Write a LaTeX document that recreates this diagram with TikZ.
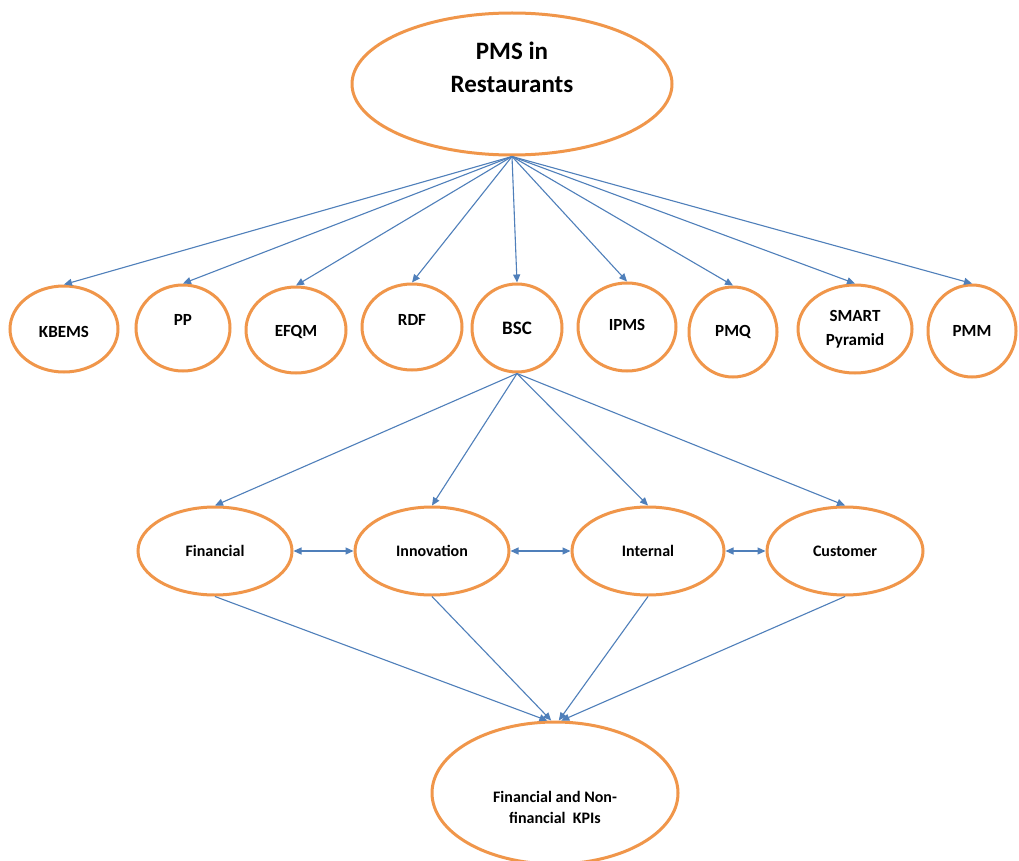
\documentclass[tikz,border=0pt]{standalone}
\usepackage{fontspec}
\setmainfont{Carlito}
\usetikzlibrary{shapes.geometric,arrows.meta}
\definecolor{ovalorange}{HTML}{F0964A}
\definecolor{linkblue}{HTML}{4F7FBA}
\begin{document}
\begin{tikzpicture}[x=1pt,y=-1pt,
  oval/.style={ellipse, draw=ovalorange, line width=3pt, fill=white, inner sep=0pt},
  lbl/.style={font=\fontsize{17}{24}\selectfont\bfseries, align=center, text=black},
  midlbl/.style={font=\fontsize{16}{21}\selectfont\bfseries, align=center, text=black},
  link/.style={draw=linkblue, line width=1.1pt, -{Triangle[length=8pt,width=7pt]}},
  blink/.style={draw=linkblue, line width=1.1pt, {Triangle[length=8pt,width=7pt]}-{Triangle[length=8pt,width=7pt]}}
]
\useasboundingbox (0,0) rectangle (1019,861);
\fill[white] (0,0) rectangle (1019,861);

% top
\node[oval, minimum width=320pt, minimum height=142pt,
  label={[font=\fontsize{25}{33}\selectfont\bfseries, align=center, yshift=17pt]center:PMS in\\Restaurants}] (pms) at (512,84) {};

% second row
\node[oval, minimum width=108pt, minimum height=86pt, label={[lbl,yshift=-3pt]center:KBEMS}] (kbems) at (64,329) {};
\node[oval, minimum width=94pt, minimum height=86pt, label={[lbl,yshift=8pt]center:PP}] (pp) at (183,328) {};
\node[oval, minimum width=100pt, minimum height=86pt, label={[lbl,yshift=-2pt]center:EFQM}] (efqm) at (296,330) {};
\node[oval, minimum width=100pt, minimum height=86pt, label={[lbl,yshift=7pt]center:RDF}] (rdf) at (412,327) {};
\node[oval, minimum width=90pt, minimum height=88pt, label={[lbl,font=\fontsize{19}{24}\selectfont\bfseries]center:BSC}] (bsc) at (517,328) {};
\node[oval, minimum width=98pt, minimum height=88pt, label={[lbl,yshift=2pt]center:IPMS}] (ipms) at (627,327) {};
\node[oval, minimum width=88pt, minimum height=90pt, label={[lbl]center:PMQ}] (pmq) at (733,332) {};
\node[oval, minimum width=114pt, minimum height=88pt, label={[lbl]center:SMART\\Pyramid}] (smart) at (855,329) {};
\node[oval, minimum width=88pt, minimum height=92pt, label={[lbl]center:PMM}] (pmm) at (972,331) {};

% third row
\node[oval, minimum width=154pt, minimum height=88pt, label={[midlbl]center:Financial}] (fin) at (215,551) {};
\node[oval, minimum width=154pt, minimum height=88pt, label={[midlbl]center:Innovation}] (inn) at (432,551) {};
\node[oval, minimum width=152pt, minimum height=88pt, label={[midlbl]center:Internal}] (int) at (648,551) {};
\node[oval, minimum width=156pt, minimum height=88pt, label={[midlbl]center:Customer}] (cus) at (845,551) {};

% bottom
\node[oval, minimum width=246pt, minimum height=142pt, label={[midlbl,yshift=-14pt]center:Financial and Non-\\financial~ KPIs}] (kpi) at (555,793) {};

% links from top
\foreach \t in {kbems,pp,efqm,rdf,bsc,ipms,pmq,smart,pmm}
  \draw[link] (pms.south) -- (\t.north);

% links from BSC
\foreach \t in {fin,inn,int,cus}
  \draw[link] (bsc.south) -- (\t.north);

% horizontal double arrows
\draw[blink] (fin.east) -- (inn.west);
\draw[blink] (inn.east) -- (int.west);
\draw[blink] (int.east) -- (cus.west);

% to KPIs
\draw[link] (fin.south) -- (kpi.96);
\draw[link] (inn.south) -- (kpi.93);
\draw[link] (int.south) -- (kpi.87);
\draw[link] (cus.south) -- (kpi.85);
\end{tikzpicture}
\end{document}
